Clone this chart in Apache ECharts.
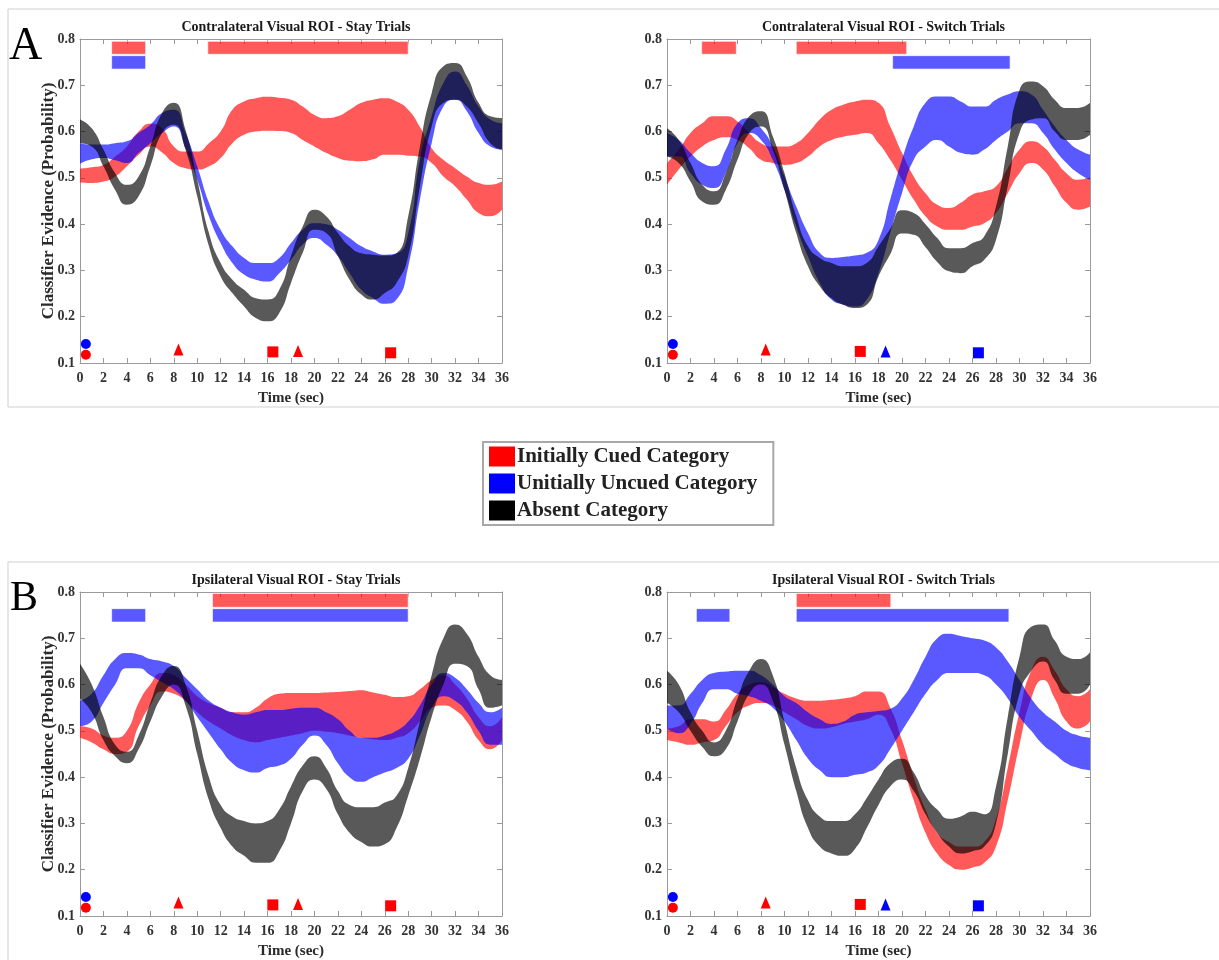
<!DOCTYPE html>
<html>
<head>
<meta charset="utf-8">
<script src="https://cdn.jsdelivr.net/npm/echarts@6/dist/echarts.min.js"></script>
<style>
html, body { margin: 0; padding: 0; background: #fff; }
#chart { width: 1219px; height: 960px; }
</style>
</head>
<body>
<div id="chart"></div>
<script>
// Time axis (sec) shared by every band
const timeSec = [0,1,2,3,4,5,6,7,8,9,10,11,12,13,14,15,16,17,18,19,20,21,22,23,24,25,26,27,28,29,30,31,32,33,34,35,36];
const yTicks = [0.1,0.2,0.3,0.4,0.5,0.6,0.7,0.8];

// Contralateral ROI, stay trials: lower / upper bound of each band
const contraStayCuedLo   = [0.49,0.489,0.492,0.503,0.525,0.55,0.568,0.555,0.532,0.521,0.518,0.525,0.543,0.575,0.593,0.6,0.602,0.601,0.597,0.582,0.568,0.554,0.543,0.537,0.536,0.54,0.55,0.55,0.548,0.546,0.532,0.503,0.482,0.453,0.424,0.417,0.431];
const contraStayCuedHi   = [0.52,0.523,0.528,0.546,0.568,0.6,0.617,0.607,0.568,0.557,0.557,0.575,0.6,0.647,0.665,0.672,0.675,0.673,0.669,0.654,0.636,0.629,0.633,0.647,0.662,0.669,0.672,0.665,0.647,0.61,0.564,0.539,0.521,0.503,0.489,0.485,0.492];
const contraStayUncuedLo = [0.53,0.54,0.543,0.538,0.532,0.554,0.575,0.597,0.611,0.564,0.496,0.417,0.359,0.316,0.291,0.28,0.276,0.294,0.323,0.356,0.37,0.356,0.331,0.294,0.258,0.24,0.228,0.237,0.308,0.453,0.575,0.654,0.669,0.644,0.597,0.568,0.561];
const contraStayUncuedHi = [0.575,0.572,0.572,0.575,0.579,0.597,0.615,0.64,0.647,0.597,0.525,0.446,0.388,0.352,0.327,0.316,0.316,0.327,0.359,0.388,0.402,0.4,0.388,0.37,0.352,0.341,0.334,0.337,0.38,0.539,0.633,0.705,0.73,0.7,0.654,0.626,0.618];
const contraStayAbsentLo = [0.575,0.568,0.525,0.474,0.442,0.46,0.525,0.597,0.615,0.561,0.46,0.352,0.287,0.251,0.222,0.197,0.19,0.208,0.273,0.338,0.388,0.381,0.331,0.28,0.248,0.237,0.251,0.273,0.331,0.482,0.611,0.662,0.669,0.654,0.618,0.575,0.561];
const contraStayAbsentHi = [0.626,0.607,0.561,0.51,0.485,0.503,0.568,0.64,0.662,0.604,0.496,0.381,0.316,0.28,0.258,0.24,0.237,0.258,0.331,0.395,0.431,0.417,0.381,0.352,0.337,0.334,0.332,0.337,0.417,0.568,0.683,0.741,0.748,0.719,0.662,0.633,0.629];

// Contralateral ROI, switch trials
const contraSwitchCuedLo   = [0.485,0.518,0.546,0.568,0.582,0.588,0.582,0.564,0.539,0.532,0.528,0.532,0.546,0.568,0.582,0.589,0.593,0.597,0.575,0.539,0.496,0.453,0.417,0.395,0.388,0.388,0.395,0.402,0.424,0.467,0.51,0.532,0.518,0.482,0.446,0.431,0.438];
const contraSwitchCuedHi   = [0.532,0.561,0.597,0.618,0.633,0.633,0.622,0.597,0.575,0.568,0.568,0.575,0.597,0.626,0.647,0.658,0.665,0.669,0.662,0.611,0.554,0.503,0.467,0.442,0.435,0.446,0.464,0.471,0.482,0.521,0.561,0.579,0.568,0.539,0.51,0.496,0.5];
const contraSwitchUncuedLo = [0.546,0.546,0.51,0.485,0.478,0.51,0.575,0.597,0.582,0.539,0.474,0.395,0.33,0.273,0.237,0.226,0.222,0.237,0.294,0.381,0.467,0.539,0.568,0.582,0.568,0.554,0.55,0.561,0.582,0.6,0.618,0.618,0.597,0.561,0.532,0.51,0.496];
const contraSwitchUncuedHi = [0.597,0.582,0.554,0.532,0.525,0.561,0.618,0.629,0.607,0.568,0.503,0.438,0.381,0.338,0.327,0.329,0.332,0.338,0.366,0.453,0.539,0.611,0.662,0.676,0.676,0.665,0.654,0.654,0.669,0.68,0.687,0.68,0.647,0.611,0.582,0.561,0.55];
const contraSwitchAbsentLo = [0.546,0.532,0.492,0.449,0.442,0.474,0.539,0.597,0.611,0.561,0.474,0.381,0.309,0.266,0.24,0.226,0.219,0.226,0.287,0.335,0.38,0.377,0.35,0.318,0.298,0.294,0.309,0.323,0.366,0.482,0.597,0.626,0.629,0.6,0.582,0.582,0.593];
const contraSwitchAbsentHi = [0.607,0.582,0.532,0.485,0.471,0.51,0.582,0.633,0.644,0.59,0.51,0.417,0.352,0.327,0.316,0.309,0.309,0.316,0.352,0.39,0.43,0.424,0.4,0.37,0.348,0.348,0.359,0.374,0.438,0.568,0.69,0.708,0.698,0.669,0.651,0.651,0.662];

// Ipsilateral ROI, stay trials
const ipsiStayCuedLo   = [0.485,0.475,0.46,0.45,0.455,0.51,0.555,0.585,0.58,0.565,0.54,0.52,0.505,0.49,0.48,0.475,0.48,0.485,0.49,0.495,0.5,0.498,0.495,0.49,0.485,0.482,0.48,0.485,0.495,0.52,0.55,0.555,0.545,0.52,0.48,0.46,0.48];
const ipsiStayCuedHi   = [0.51,0.505,0.49,0.485,0.5,0.56,0.6,0.625,0.62,0.6,0.575,0.56,0.55,0.54,0.54,0.55,0.57,0.58,0.582,0.582,0.582,0.583,0.584,0.586,0.588,0.583,0.578,0.573,0.575,0.59,0.61,0.62,0.6,0.57,0.53,0.51,0.53];
const ipsiStayUncuedLo = [0.51,0.52,0.56,0.6,0.635,0.635,0.62,0.605,0.59,0.565,0.53,0.495,0.46,0.43,0.415,0.41,0.42,0.425,0.44,0.47,0.49,0.47,0.43,0.4,0.39,0.4,0.41,0.42,0.44,0.49,0.55,0.575,0.565,0.54,0.5,0.47,0.47];
const ipsiStayUncuedHi = [0.565,0.58,0.62,0.655,0.668,0.665,0.655,0.65,0.64,0.615,0.59,0.565,0.55,0.54,0.535,0.54,0.545,0.545,0.548,0.55,0.55,0.54,0.525,0.5,0.485,0.485,0.49,0.5,0.52,0.555,0.6,0.625,0.615,0.59,0.56,0.54,0.55];
const ipsiStayAbsentLo = [0.57,0.54,0.48,0.445,0.43,0.46,0.52,0.575,0.6,0.555,0.45,0.35,0.29,0.25,0.23,0.215,0.215,0.24,0.3,0.37,0.395,0.375,0.32,0.28,0.26,0.25,0.255,0.29,0.36,0.44,0.53,0.6,0.645,0.64,0.59,0.55,0.555];
const ipsiStayAbsentHi = [0.645,0.6,0.53,0.47,0.455,0.49,0.56,0.62,0.64,0.6,0.5,0.4,0.34,0.315,0.305,0.3,0.305,0.33,0.38,0.425,0.445,0.42,0.37,0.34,0.335,0.335,0.345,0.36,0.42,0.52,0.62,0.7,0.73,0.71,0.66,0.62,0.61];

// Ipsilateral ROI, switch trials
const ipsiSwitchCuedLo   = [0.48,0.475,0.47,0.475,0.48,0.51,0.54,0.555,0.56,0.555,0.54,0.525,0.51,0.505,0.508,0.515,0.52,0.525,0.535,0.505,0.43,0.35,0.28,0.235,0.21,0.2,0.205,0.215,0.25,0.35,0.47,0.57,0.61,0.57,0.52,0.505,0.52];
const ipsiSwitchCuedHi   = [0.505,0.51,0.525,0.525,0.52,0.545,0.58,0.6,0.605,0.595,0.58,0.57,0.565,0.565,0.567,0.57,0.575,0.585,0.585,0.55,0.48,0.4,0.33,0.28,0.26,0.25,0.25,0.26,0.31,0.42,0.54,0.63,0.66,0.63,0.59,0.575,0.59];
const ipsiSwitchUncuedLo = [0.505,0.495,0.515,0.56,0.59,0.59,0.58,0.575,0.565,0.55,0.52,0.48,0.44,0.415,0.4,0.4,0.405,0.41,0.425,0.46,0.5,0.54,0.58,0.61,0.625,0.625,0.625,0.62,0.6,0.57,0.53,0.5,0.47,0.45,0.43,0.42,0.415];
const ipsiSwitchUncuedHi = [0.555,0.555,0.58,0.61,0.625,0.628,0.63,0.63,0.62,0.6,0.575,0.56,0.54,0.525,0.515,0.52,0.535,0.54,0.543,0.548,0.57,0.61,0.66,0.7,0.71,0.705,0.7,0.695,0.68,0.65,0.61,0.57,0.54,0.52,0.5,0.49,0.485];
const ipsiSwitchAbsentLo = [0.56,0.54,0.5,0.465,0.445,0.46,0.52,0.58,0.6,0.565,0.47,0.37,0.29,0.25,0.235,0.23,0.245,0.29,0.34,0.38,0.395,0.37,0.32,0.28,0.25,0.235,0.24,0.25,0.3,0.45,0.58,0.63,0.65,0.61,0.58,0.58,0.6];
const ipsiSwitchAbsentHi = [0.63,0.6,0.54,0.5,0.475,0.5,0.57,0.63,0.655,0.62,0.52,0.42,0.35,0.315,0.305,0.305,0.32,0.355,0.395,0.43,0.44,0.41,0.36,0.33,0.31,0.315,0.325,0.32,0.38,0.53,0.66,0.725,0.73,0.695,0.66,0.655,0.67];

// Significance bars: [start sec, end sec, lower prob, upper prob]
const contraStayCuedSig     = [[2.7,5.6,0.767,0.795],[10.9,28.0,0.767,0.795]];
const contraStayUncuedSig   = [[2.7,5.6,0.735,0.764]];
const contraSwitchCuedSig   = [[2.95,5.9,0.767,0.795],[11.0,20.4,0.767,0.795]];
const contraSwitchUncuedSig = [[19.2,29.2,0.735,0.764]];
const ipsiStayCuedSig       = [[11.3,28.0,0.767,0.797]];
const ipsiStayUncuedSig     = [[2.7,5.6,0.735,0.764],[11.3,28.0,0.735,0.764]];
const ipsiSwitchCuedSig     = [[11.0,19.05,0.767,0.797]];
const ipsiSwitchUncuedSig   = [[2.5,5.35,0.735,0.764],[11.0,29.1,0.735,0.764]];

// Event markers: [sec, prob]
const onsetCued          = [[0.5,0.118]];
const onsetUncued        = [[0.5,0.141]];
const stayCuedTriangles  = [[8.4,0.129],[18.6,0.126]];
const stayCuedSquares    = [[16.45,0.124],[26.5,0.122]];
const switchCuedTriangles   = [[8.4,0.129]];
const switchUncuedTriangles = [[18.6,0.125]];
const switchCuedSquares     = [[16.45,0.125]];
const switchUncuedSquares   = [[26.5,0.122]];

const CAT_NAMES = ['Initially Cued Category', 'Unitially Uncued Category', 'Absent Category'];
const CAT_COLORS = ['#ff0000', '#0000ff', '#000000'];
const FONT = "'Liberation Serif', 'DejaVu Serif', serif";

const panels = [
  { title: 'Contralateral Visual ROI - Stay Trials', grid: { left: 80, top: 39, width: 422, height: 324 }, yName: true,
    bands: [[contraStayCuedLo, contraStayCuedHi], [contraStayUncuedLo, contraStayUncuedHi], [contraStayAbsentLo, contraStayAbsentHi]],
    sig: [contraStayCuedSig, contraStayUncuedSig],
    tri: [stayCuedTriangles, []], sq: [stayCuedSquares, []] },
  { title: 'Contralateral Visual ROI - Switch Trials', grid: { left: 667, top: 39, width: 423, height: 324 }, yName: false,
    bands: [[contraSwitchCuedLo, contraSwitchCuedHi], [contraSwitchUncuedLo, contraSwitchUncuedHi], [contraSwitchAbsentLo, contraSwitchAbsentHi]],
    sig: [contraSwitchCuedSig, contraSwitchUncuedSig],
    tri: [switchCuedTriangles, switchUncuedTriangles], sq: [switchCuedSquares, switchUncuedSquares] },
  { title: 'Ipsilateral Visual ROI - Stay Trials', grid: { left: 80, top: 592, width: 422, height: 325 }, yName: true,
    bands: [[ipsiStayCuedLo, ipsiStayCuedHi], [ipsiStayUncuedLo, ipsiStayUncuedHi], [ipsiStayAbsentLo, ipsiStayAbsentHi]],
    sig: [ipsiStayCuedSig, ipsiStayUncuedSig],
    tri: [stayCuedTriangles, []], sq: [stayCuedSquares, []] },
  { title: 'Ipsilateral Visual ROI - Switch Trials', grid: { left: 667, top: 592, width: 423, height: 325 }, yName: false,
    bands: [[ipsiSwitchCuedLo, ipsiSwitchCuedHi], [ipsiSwitchUncuedLo, ipsiSwitchUncuedHi], [ipsiSwitchAbsentLo, ipsiSwitchAbsentHi]],
    sig: [ipsiSwitchCuedSig, ipsiSwitchUncuedSig],
    tri: [switchCuedTriangles, switchUncuedTriangles], sq: [switchCuedSquares, switchUncuedSquares] }
];

const axisGray = '#9a9a9a';
const grids = [], xAxes = [], yAxes = [], titles = [], series = [];

panels.forEach((p, g) => {
  grids.push(p.grid);
  titles.push({
    text: p.title,
    left: p.grid.left + p.grid.width / 2,
    top: p.grid.top - 24,
    textAlign: 'center',
    textStyle: { fontFamily: FONT, fontSize: 14, fontWeight: 'bold', color: '#1a1a1a' }
  });
  // bottom axis: one category per second, labelled every 2 s (carries the bands)
  xAxes.push({
    gridIndex: g, type: 'category', data: timeSec, boundaryGap: false, position: 'bottom',
    axisLine: { onZero: false, lineStyle: { color: axisGray, width: 1 } },
    axisTick: { inside: true, length: 5, interval: 1, lineStyle: { color: axisGray } },
    splitLine: { show: false },
    name: 'Time (sec)', nameLocation: 'middle', nameGap: 28,
    nameTextStyle: { fontFamily: FONT, fontSize: 15, fontWeight: 'bold', color: '#2a2a2a' },
    axisLabel: { interval: 1, fontFamily: FONT, fontSize: 14, fontWeight: 'bold', color: '#333', margin: 8 }
  });
  // top axis: continuous seconds (carries bars and event markers)
  xAxes.push({
    gridIndex: g, type: 'value', min: 0, max: 36, interval: 2, position: 'top',
    axisLine: { onZero: false, lineStyle: { color: axisGray, width: 1 } },
    axisTick: { inside: true, length: 5, lineStyle: { color: axisGray } },
    axisLabel: { show: false }, splitLine: { show: false }
  });
  const yBase = { gridIndex: g, type: 'value', min: yTicks[0], max: yTicks[yTicks.length - 1], interval: 0.1,
    axisLine: { onZero: false, lineStyle: { color: axisGray, width: 1 } },
    axisTick: { inside: true, length: 5, lineStyle: { color: axisGray } },
    splitLine: { show: false } };
  yAxes.push(Object.assign({}, yBase, {
    position: 'left',
    name: p.yName ? 'Classifier Evidence (Probability)' : '', nameLocation: 'middle', nameGap: 23,
    nameMoveOverlap: false,
    nameTextStyle: { fontFamily: FONT, fontSize: 17, fontWeight: 'bold', color: '#2a2a2a' },
    axisLabel: { fontFamily: FONT, fontSize: 14, fontWeight: 'bold', color: '#333', margin: 5,
      formatter: v => v.toFixed(1) }
  }));
  yAxes.push(Object.assign({}, yBase, { position: 'right', axisLabel: { show: false } }));

  const xb = g * 2, xt = g * 2 + 1, yi = g * 2;
  // Confidence bands: transparent lower line + stacked band height
  p.bands.forEach((b, c) => {
    const stackId = 'band-' + g + '-' + c;
    series.push({
      type: 'line', name: 'lower-' + g + '-' + c, xAxisIndex: xb, yAxisIndex: yi, stack: stackId,
      data: b[0].slice(), smooth: 0.55, symbol: 'none', silent: true,
      lineStyle: { opacity: 0 }, z: 2 + c
    });
    series.push({
      type: 'line', name: CAT_NAMES[c], xAxisIndex: xb, yAxisIndex: yi, stack: stackId,
      data: b[1].map((hi, i) => +(hi - b[0][i]).toFixed(4)), smooth: 0.55, symbol: 'none', silent: true,
      lineStyle: { opacity: 0 }, areaStyle: { color: CAT_COLORS[c], opacity: 0.65 },
      itemStyle: { color: CAT_COLORS[c] }, z: 2 + c
    });
  });
  // Significance bars
  p.sig.forEach((bars, c) => {
    series.push({
      type: 'custom', xAxisIndex: xt, yAxisIndex: yi, silent: true, z: 6,
      data: bars,
      renderItem: (params, api) => {
        const a = api.coord([api.value(0), api.value(3)]);
        const b = api.coord([api.value(1), api.value(2)]);
        return { type: 'rect', shape: { x: a[0], y: a[1], width: b[0] - a[0], height: b[1] - a[1] },
          style: { fill: CAT_COLORS[c], opacity: 0.65, stroke: '#ffffff', lineWidth: 1 } };
      }
    });
  });
  // Event markers
  const addMarks = (data, symbol, size, c) => {
    if (!data.length) return;
    series.push({ type: 'scatter', xAxisIndex: xt, yAxisIndex: yi, data: data, symbol: symbol, symbolSize: size,
      silent: true, itemStyle: { color: CAT_COLORS[c], opacity: 1 }, z: 7 });
  };
  addMarks(onsetUncued, 'circle', 10, 1);
  addMarks(onsetCued, 'circle', 10, 0);
  addMarks(p.tri[0], 'triangle', [10, 12], 0);
  addMarks(p.tri[1], 'triangle', [10, 12], 1);
  addMarks(p.sq[0], 'rect', 11, 0);
  addMarks(p.sq[1], 'rect', 11, 1);
});

const chart = echarts.init(document.getElementById('chart'), null, { renderer: 'canvas' });
chart.setOption({
  backgroundColor: '#ffffff',
  animation: false,
  title: titles,
  grid: grids,
  xAxis: xAxes,
  yAxis: yAxes,
  legend: {
    left: 483, top: 442, orient: 'vertical', selectedMode: false,
    padding: [4, 16, 4, 6], itemGap: 6, itemWidth: 26, itemHeight: 20,
    borderColor: '#a8a8a8', borderWidth: 2, backgroundColor: '#ffffff',
    textStyle: { fontFamily: FONT, fontSize: 21, fontWeight: 'bold', color: '#222', padding: [0, 0, 0, -3] },
    data: CAT_NAMES.map((n, c) => ({ name: n, icon: 'rect', itemStyle: { color: CAT_COLORS[c], opacity: 1 } }))
  },
  graphic: [
    { type: 'rect', shape: { x: 8, y: 9, width: 1240, height: 398 }, style: { fill: 'none', stroke: '#cfcfcf', lineWidth: 1 }, silent: true },
    { type: 'rect', shape: { x: 8, y: 562, width: 1240, height: 420 }, style: { fill: 'none', stroke: '#cfcfcf', lineWidth: 1 }, silent: true },
    { type: 'text', left: 9, top: 24, style: { text: 'A', font: "46px 'Liberation Serif', serif", fill: '#000' }, silent: true },
    { type: 'text', left: 10, top: 578, style: { text: 'B', font: "42px 'Liberation Serif', serif", fill: '#000' }, silent: true }
  ],
  series: series
});
</script>
</body>
</html>
